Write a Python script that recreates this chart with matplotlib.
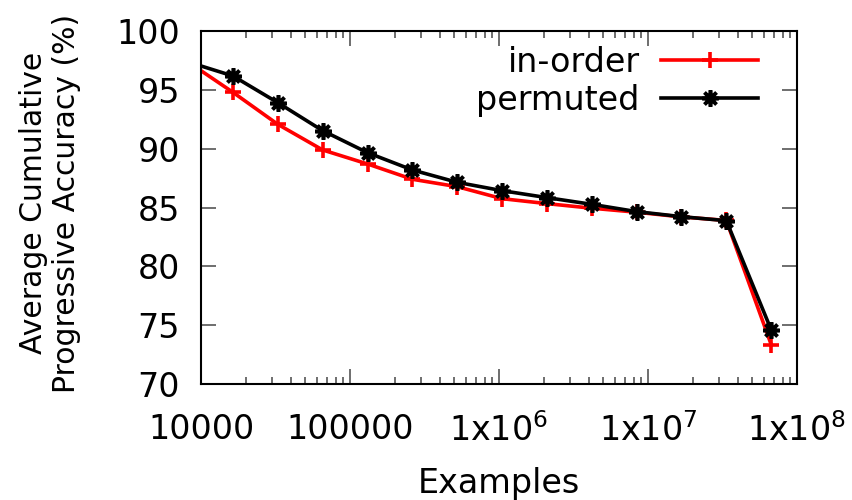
import matplotlib
matplotlib.use("Agg")
import matplotlib.pyplot as plt
from matplotlib.ticker import FixedLocator, LogLocator, NullFormatter

# data (x = powers of two, 2^13 .. 2^26)
examples = [2**k for k in range(13, 27)]
in_order = [97.37, 94.79, 92.07, 89.89, 88.70, 87.40, 86.77, 85.75,
            85.33, 84.94, 84.60, 84.20, 83.90, 73.35]
permuted = [97.37, 96.18, 93.91, 91.53, 89.66, 88.19, 87.14, 86.43,
            85.84, 85.27, 84.65, 84.22, 83.88, 74.60]

x_ticks = [1e4, 1e5, 1e6, 1e7, 1e8]
x_tick_labels = ["10000", "100000", r"1x10$^{6}$", r"1x10$^{7}$", r"1x10$^{8}$"]
y_ticks = [70, 75, 80, 85, 90, 95, 100]

plt.rcParams['font.family'] = ['DejaVu Sans']
plt.rcParams['mathtext.fontset'] = 'dejavusans'
fs = 24

fig = plt.figure(figsize=(8.52, 5.0), dpi=100)
ax = fig.add_axes([201/852, (500-384)/500, (797-201)/852, (384-31)/500])

ax.plot(examples, in_order, color='red', lw=2.6, marker='+', ms=11.5, mew=2.6,
        label='in-order')
ax.plot(examples, permuted, color='black', lw=2.6, marker=(8, 2, 0), ms=12, mew=2.6,
        label='permuted')

ax.set_xscale('log')
ax.set_xlim(1e4, 1e8)
ax.set_ylim(70, 100)
ax.xaxis.set_major_locator(FixedLocator(x_ticks))
ax.set_xticklabels(x_tick_labels)
ax.xaxis.set_minor_locator(LogLocator(base=10, subs=range(2, 10)))
ax.xaxis.set_minor_formatter(NullFormatter())
ax.set_yticks(y_ticks)

ax.tick_params(axis='both', which='major', direction='in', length=10.5, width=1.2,
               color='#555555', top=True, right=True, labelsize=fs)
ax.tick_params(axis='x', which='major', pad=21)
ax.tick_params(axis='y', which='major', pad=15)
ax.tick_params(axis='x', which='minor', direction='in', length=5, width=1.2,
               color='#555555', top=True, bottom=True)
for sp in ax.spines.values():
    sp.set_linewidth(1.5)

ax.set_xlabel("Examples", fontsize=fs, va='center')
ax.xaxis.set_label_coords(0.5, (384-483)/353)
ax.set_ylabel("Average Cumulative\nProgressive Accuracy (%)", fontsize=21.5,
              linespacing=1.15, va='center')
ax.yaxis.set_label_coords((50-201)/596, (384-203)/353)

ax.legend(loc='upper right', frameon=False, fontsize=fs, markerfirst=False,
          handlelength=2.9, handletextpad=0.65, borderpad=0, borderaxespad=0,
          labelspacing=0.15, bbox_to_anchor=((758-201)/596, (384-46)/353))

fig.savefig("out.png", dpi=100)
